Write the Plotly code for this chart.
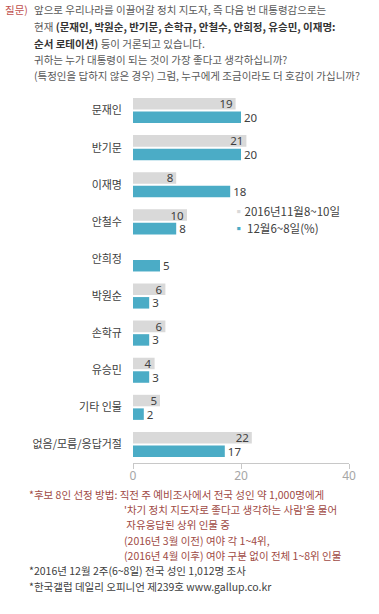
import plotly.graph_objects as go

categories = ["문재인", "반기문", "이재명", "안철수", "안희정", "박원순", "손학규", "유승민", "기타 인물", "없음/모름/응답거절"]
nov_values = [19, 21, 8, 10, None, 6, 6, 4, 5, 22]
dec_values = [20, 20, 18, 8, 5, 3, 3, 3, 2, 17]
series_names = ["2016년11월8~10일", "12월6~8일(%)"]
x_ticks = [0, 20, 40]

FONT = "Noto Sans CJK KR, Noto Sans, sans-serif"
NUMFONT = "Noto Sans, Noto Sans CJK KR, sans-serif"
GREY = "#d9d9d9"
BLUE = "#4bacc6"
TXT = "#404040"
RED = "#a04a44"

W, H = 379, 614
L, R, T, B = 133, 30, 92, 151
PW, PH = W - L - R, H - T - B


def px(x):
    return (x - L) / PW


def py(y):
    return (H - B - y) / PH


fig = go.Figure()
fig.add_trace(go.Bar(
    y=categories, x=nov_values, orientation="h", name=series_names[0],
    marker=dict(color=GREY, line=dict(width=0)),
    text=[("" if v is None else str(v)) for v in nov_values],
    textposition="inside", insidetextanchor="end", textangle=0,
    insidetextfont=dict(family=NUMFONT, size=11.5, color=TXT),
    cliponaxis=False,
    showlegend=False,
))
fig.add_trace(go.Bar(
    y=categories, x=dec_values, orientation="h", name=series_names[1],
    marker=dict(color=BLUE, line=dict(width=0)),
    text=[str(v) for v in dec_values],
    textposition="outside", textangle=0,
    outsidetextfont=dict(family=NUMFONT, size=11.5, color=TXT),
    cliponaxis=False,
    showlegend=False,
))

fig.update_layout(
    width=W, height=H,
    margin=dict(l=L, r=R, t=T, b=B, pad=0),
    paper_bgcolor="white", plot_bgcolor="white",
    barmode="group", bargap=0.27, bargroupgap=0.15,
    font=dict(family=FONT, size=11, color=TXT),
    uniformtext=dict(minsize=11.5, mode="show"),
    xaxis=dict(
        range=[0, 40], tickvals=x_ticks, ticktext=[str(t) for t in x_ticks],
        showgrid=False, zeroline=False, showline=True, linecolor="#c8c8c8", linewidth=1,
        ticks="outside", ticklen=5, tickcolor="#c8c8c8",
        ticklabelstandoff=-3,
        tickfont=dict(family=NUMFONT, size=12, color="#a6a6a6"),
        fixedrange=True,
    ),
    yaxis=dict(
        autorange="reversed", showgrid=False, zeroline=False, showline=False,
        ticks="", ticklabelstandoff=10,
        tickfont=dict(family=FONT, size=11, color=TXT),
        fixedrange=True,
    ),
)

annotations = []


def add(text, x, y, color="#595959", size=10.5):
    annotations.append(dict(
        text=text, x=px(x), y=py(y), xref="paper", yref="paper",
        xanchor="left", yanchor="middle", showarrow=False,
        font=dict(family=FONT, size=size, color=color),
    ))


# Question header
add("질문)", 3, 10, color="#c0504d")
add("앞으로 우리나라를 이끌어갈 정치 지도자, 즉 다음 번 대통령감으로는", 32, 10)
add("현재 <b style='color:#333'>(문재인, 박원순, 반기문, 손학규, 안철수, 안희정, 유승민, 이재명:</b>", 32, 26.5)
add("<b style='color:#333'>순서 로테이션)</b> 등이 거론되고 있습니다.", 32, 43)
add("귀하는 누가 대통령이 되는 것이 가장 좋다고 생각하십니까?", 32, 59.5)
add("(특정인을 답하지 않은 경우) 그럼, 누구에게 조금이라도 더 호감이 가십니까?", 32, 76)

# Legend
add("<span style='color:%s'>▪</span>%s" % (GREY, series_names[0]), 231, 211, color=TXT, size=11.5)
add("<span style='color:%s'>▪</span> %s" % (BLUE, series_names[1]), 231, 228, color=TXT, size=11.5)

# Footnotes
add("*후보 8인 선정 방법: 직전 주 예비조사에서 전국 성인 약 1,000명에게", 27, 494, color=RED)
add("'차기 정치 지도자로 좋다고 생각하는 사람'을 물어", 122, 509.5, color=RED)
add(" 자유응답된 상위 인물 중", 122, 524.5, color=RED)
add("(2016년 3월 이전) 여야 각 1~4위,", 122, 540, color=RED)
add("(2016년 4월 이후) 여야 구분 없이 전체 1~8위 인물", 122, 555, color=RED)
add("*2016년 12월 2주(6~8일) 전국 성인 1,012명 조사", 27, 570.5, color="#404040")
add("*한국갤럽 데일리 오피니언 제239호 www.gallup.co.kr", 27, 586, color="#404040")

fig.update_layout(annotations=annotations)

fig.write_html("out.html", config={"displayModeBar": False},
               post_script="document.body.style.margin='0';")
